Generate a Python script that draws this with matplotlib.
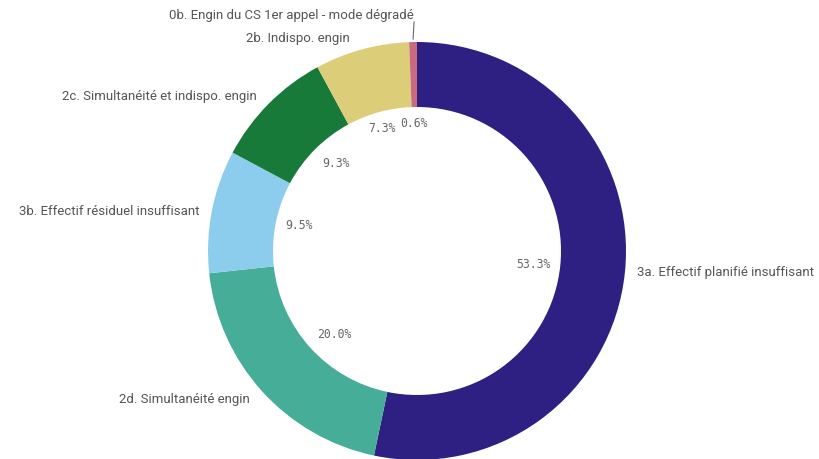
import numpy as np
import matplotlib
matplotlib.use("Agg")
import matplotlib.pyplot as plt

# données (ordre horaire depuis le haut)
categories = [
    "3a. Effectif planifié insuffisant",
    "2d. Simultanéité engin",
    "3b. Effectif résiduel insuffisant",
    "2c. Simultanéité et indispo. engin",
    "2b. Indispo. engin",
    "0b. Engin du CS 1er appel - mode dégradé",
]
values = [53.3, 20.0, 9.5, 9.3, 7.3, 0.6]
colors = ["#2e1f82", "#46ad98", "#8ccdee", "#177a38", "#dccd78", "#c96a80"]

# décalage vertical des libellés extérieurs (px)
label_dy = [0, -8, 0, 7, 11, 27]

W, H = 819, 459
cx, cy = 417, 208
R = 209
ring = 65

fig = plt.figure(figsize=(W / 100, H / 100), dpi=100)
ax = fig.add_axes([0, 0, 1, 1])

wedges, _ = ax.pie(values, colors=colors, startangle=90, counterclock=False,
                   center=(cx, cy), radius=R,
                   wedgeprops=dict(width=ring, edgecolor="none"))

ax.set_xlim(0, W)
ax.set_ylim(0, H)
ax.set_aspect("equal")
ax.axis("off")

total = sum(values)
cum = np.cumsum([0] + values[:-1])
r_in = R - ring
for i, (lab, v) in enumerate(zip(categories, values)):
    mid = np.deg2rad(90 - (cum[i] + v / 2) / total * 360)
    c, s = np.cos(mid), np.sin(mid)

    # pourcentage, collé au bord intérieur
    ha = "right" if c > 0.3 else ("left" if c < -0.3 else "center")
    va = "top" if s > 0.3 else ("bottom" if s < -0.3 else "center")
    rp = r_in - 10
    ax.text(cx + rp * c, cy + rp * s, f"{v:.1f}%", ha=ha, va=va,
            family="DejaVu Sans Mono", fontsize=8.3, color="#666666")

    # libellé extérieur
    px, py = cx + R * c, cy + R * s
    gap = 12
    if label_dy[i] > 20:
        ty = py + label_dy[i]
        ax.plot([px, px + 1], [py + 3, ty - 7], color="#666666", lw=0.8)
        ax.text(px + 1, ty, lab, ha="right", va="center",
                family="Roboto", fontsize=9.5, color="#555555")
    else:
        tx = px + gap if c > 0 else px - gap
        ax.text(tx, py + label_dy[i], lab, ha="left" if c > 0 else "right",
                va="center", family="Roboto", fontsize=9.5, color="#555555")

fig.savefig("out.png", dpi=100)
